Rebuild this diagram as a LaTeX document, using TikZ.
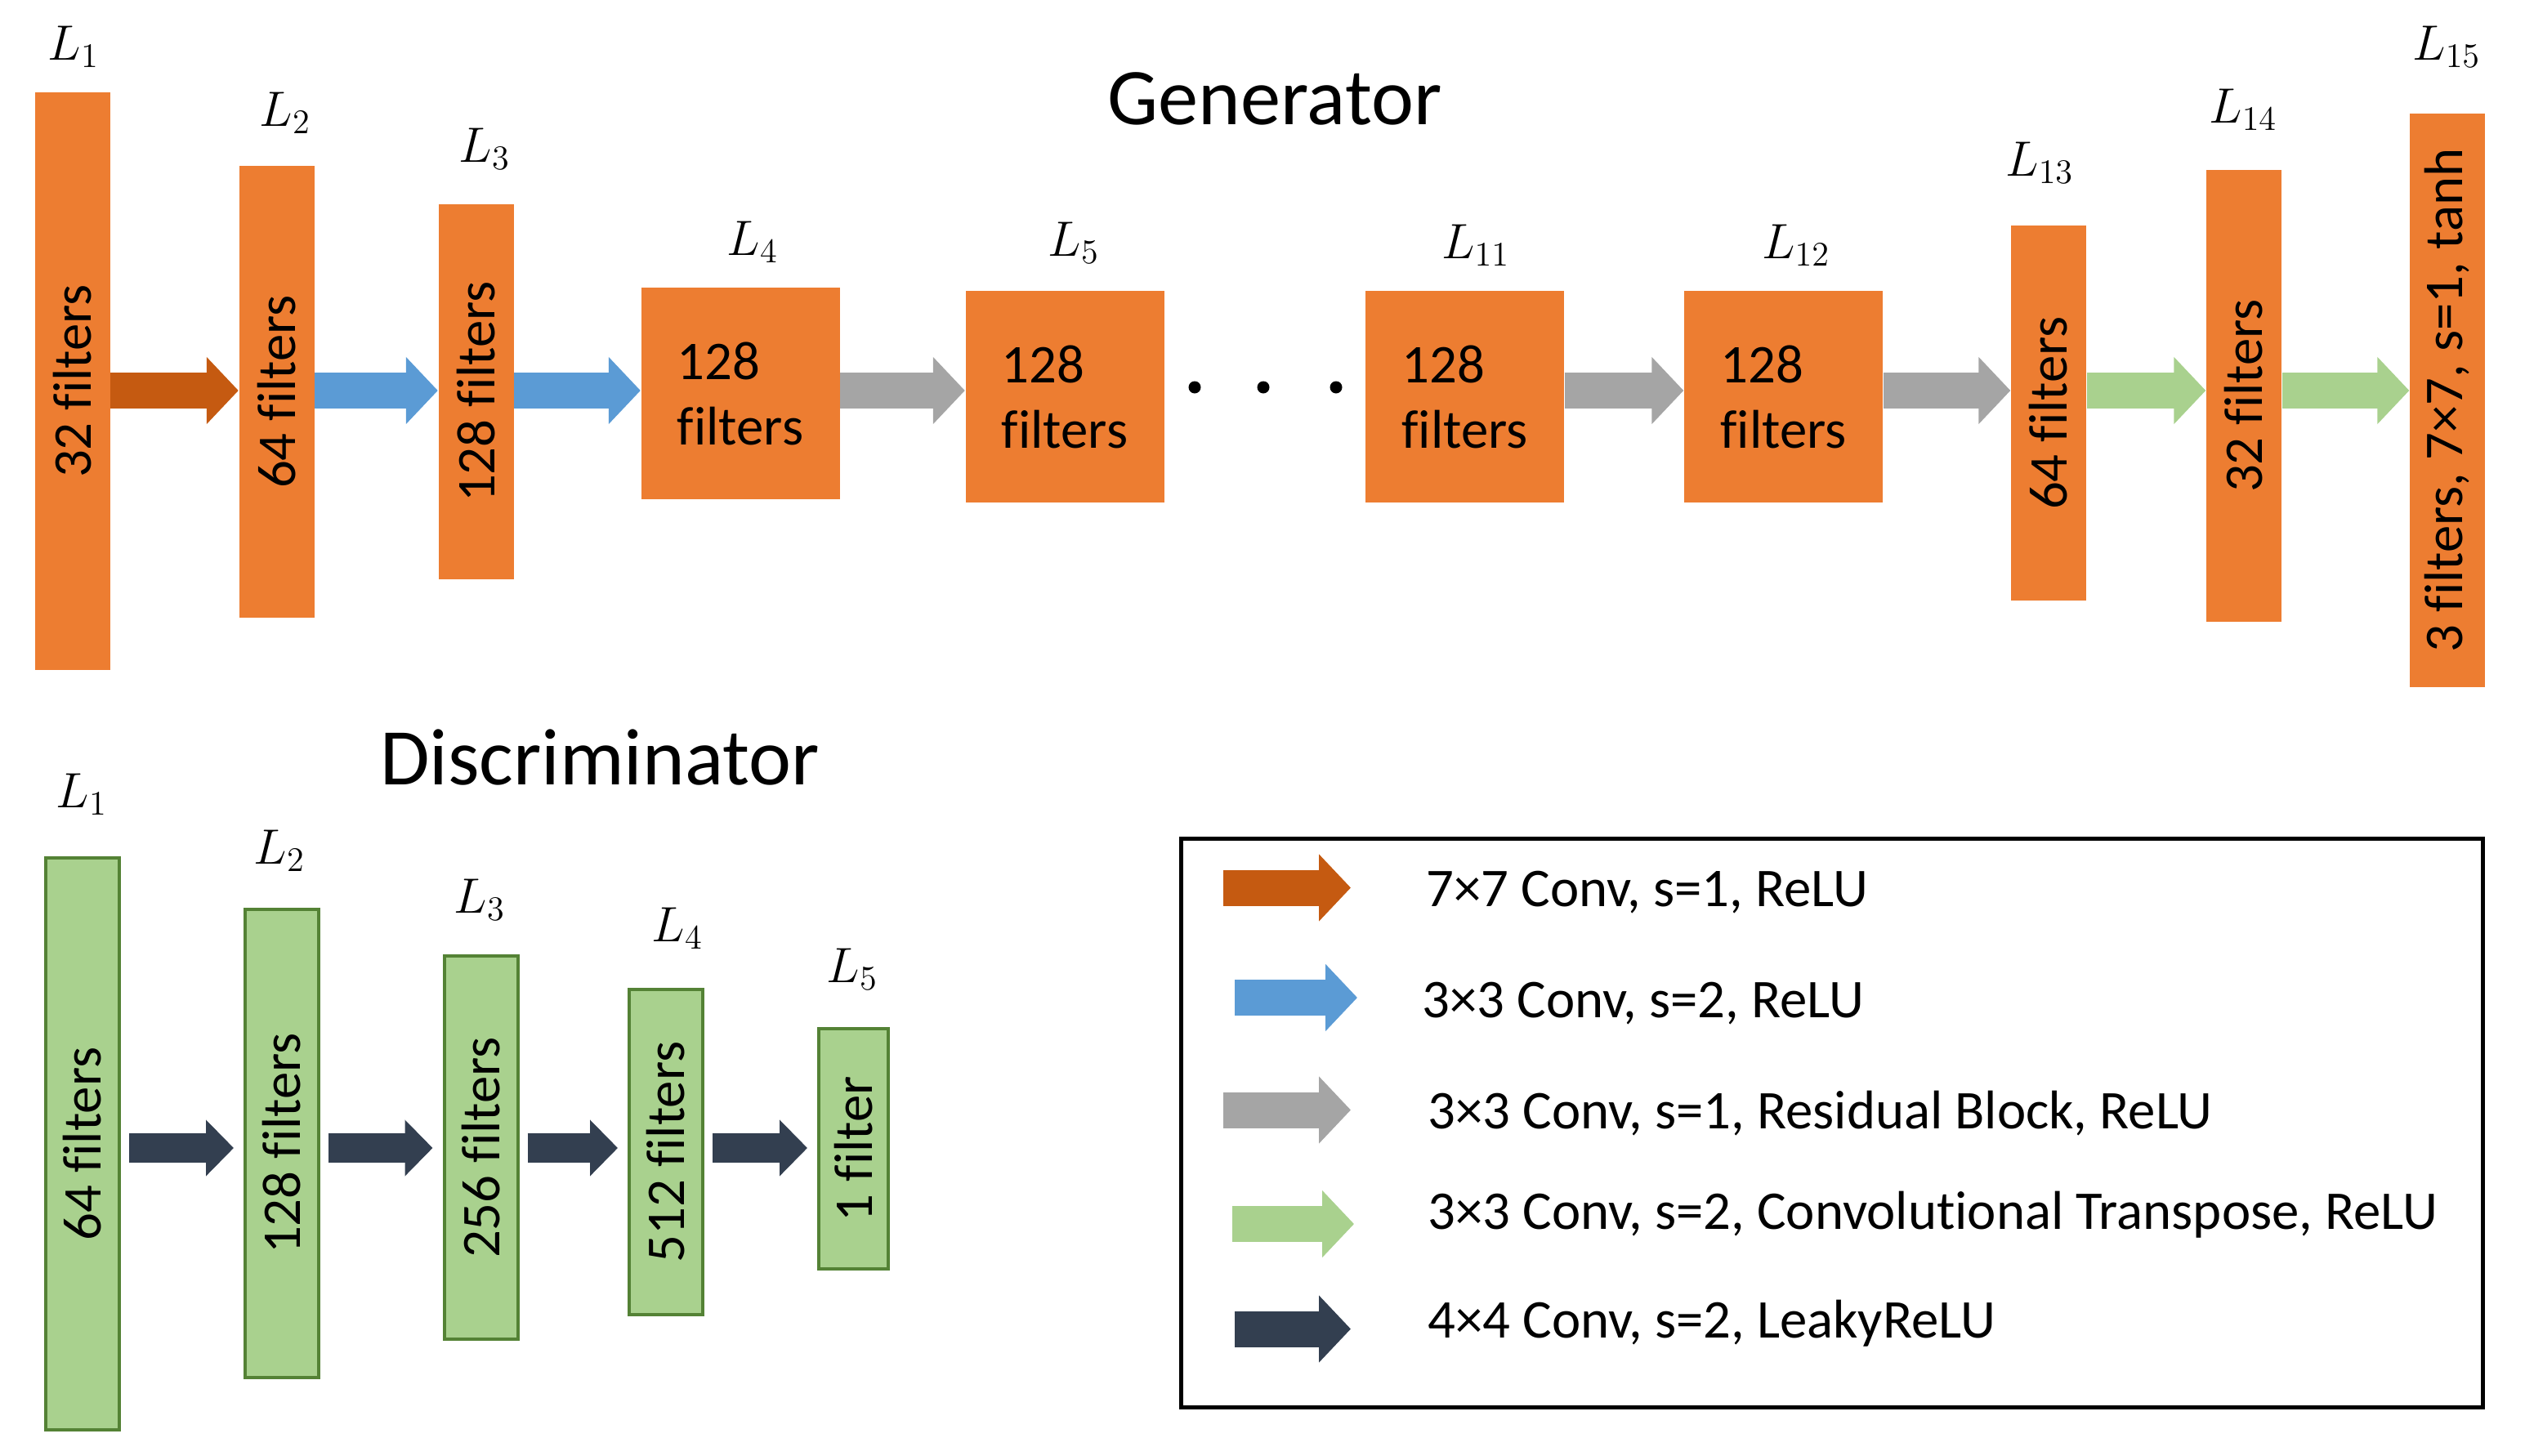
\documentclass[tikz,border=0pt]{standalone}
\usepackage{fontspec}
\setmainfont{Carlito}[Ligatures=CommonOff]
\usetikzlibrary{arrows.meta}
\definecolor{genorange}{HTML}{ED7D31}
\definecolor{convbrown}{HTML}{C55A11}
\definecolor{convblue}{HTML}{5B9BD5}
\definecolor{resgrey}{HTML}{A5A5A5}
\definecolor{upgreen}{HTML}{A9D18E}
\definecolor{boxgreen}{HTML}{548235}
\definecolor{leakydark}{HTML}{333F50}

\begin{document}
\begin{tikzpicture}
  [y=-1cm,every node/.style={font=\fontsize{19}{22.8}\selectfont,inner sep=0pt},
   gbox/.style={fill=genorange,minimum width=0.92cm},
   widebox/.style={minimum width=2.43cm,minimum height=2.59cm,align=left},
   dbox/.style={fill=upgreen,draw=boxgreen,line width=0.04cm,minimum width=0.90cm},
   lname/.style={anchor=base,font=\fontsize{17.28}{20}\selectfont},
   heading/.style={anchor=base,font=\fontsize{28}{34}\selectfont},
   blockarrow/.style={line width=0.44cm,-{Triangle[length=0.39cm,width=0.80cm]}},
   smallarrow/.style={line width=0.36cm,-{Triangle[length=0.34cm,width=0.67cm]}},
   brownarrow/.style={blockarrow,draw=convbrown},
   bluearrow/.style={blockarrow,draw=convblue},
   greyarrow/.style={blockarrow,draw=resgrey},
   greenarrow/.style={blockarrow,draw=upgreen},
   darkarrow/.style={blockarrow,draw=leakydark}]
  \useasboundingbox (0,0) rectangle (30.90,17.81);
  \node[heading] (gtitle) at (15.60,1.52) {Generator};
  \node[heading] (dtitle) at (7.34,9.60) {Discriminator};
  \node[gbox,minimum height=7.07cm] (g1) at (0.885,4.665) {\rotatebox{90}{32 filters}};
  \node[gbox,minimum height=5.53cm] (g2) at (3.385,4.795) {\rotatebox{90}{64 filters}};
  \node[gbox,minimum height=4.59cm] (g3) at (5.825,4.795) {\rotatebox{90}{128 filters}};
  \node[gbox,widebox] (g4) at (9.06,4.815) {128\\filters};
  \node[gbox,widebox] (g5) at (13.03,4.855) {128\\filters};
  \node[gbox,widebox] (g11) at (17.925,4.855) {128\\filters};
  \node[gbox,widebox] (g12) at (21.825,4.855) {128\\filters};
  \node[gbox,minimum height=4.59cm] (g13) at (25.07,5.055) {\rotatebox{90}{64 filters}};
  \node[gbox,minimum height=5.53cm] (g14) at (27.46,4.845) {\rotatebox{90}{32 filters}};
  \node[gbox,minimum height=7.02cm] (g15) at (29.95,4.90) {\rotatebox{90}{3 filters, 7×7, s=1, tanh}};
  \node[lname] (n1) at (0.90,0.73) {$L_{1}$};
  \node[lname] (n2) at (3.49,1.54) {$L_{2}$};
  \node[lname] (n3) at (5.93,1.98) {$L_{3}$};
  \node[lname] (n4) at (9.21,3.12) {$L_{4}$};
  \node[lname] (n5) at (13.14,3.13) {$L_{5}$};
  \node[lname] (n11) at (18.06,3.16) {$L_{11}$};
  \node[lname] (n12) at (21.98,3.16) {$L_{12}$};
  \node[lname] (n13) at (24.96,2.15) {$L_{13}$};
  \node[lname] (n14) at (27.45,1.50) {$L_{14}$};
  \node[lname] (n15) at (29.94,0.73) {$L_{15}$};
  \foreach \x in {14.62,15.46,16.35}
    \fill (\x,4.74) circle (0.075);
  \coordinate (grow) at (0,4.78);
  \foreach \from/\to/\kind in {g1/g2/brownarrow,g2/g3/bluearrow,g3/g4/bluearrow,g4/g5/greyarrow,g11/g12/greyarrow,g12/g13/greyarrow,g13/g14/greenarrow,g14/g15/greenarrow}
    \draw[\kind] (\from.east |- grow) -- (\to.west |- grow);
  \node[dbox,minimum height=7.00cm] (d1) at (1.01,14.00) {\rotatebox{90}{64 filters}};
  \node[dbox,minimum height=5.73cm] (d2) at (3.45,13.995) {\rotatebox{90}{128 filters}};
  \node[dbox,minimum height=4.69cm] (d3) at (5.885,14.045) {\rotatebox{90}{256 filters}};
  \node[dbox,minimum height=3.98cm] (d4) at (8.15,14.10) {\rotatebox{90}{512 filters}};
  \node[dbox,minimum height=2.94cm,minimum width=0.85cm] (d5) at (10.445,14.06) {\rotatebox{90}{1 filter}};
  \node[lname] (m1) at (1.00,9.88) {$L_{1}$};
  \node[lname] (m2) at (3.42,10.57) {$L_{2}$};
  \node[lname] (m3) at (5.87,11.17) {$L_{3}$};
  \node[lname] (m4) at (8.29,11.52) {$L_{4}$};
  \node[lname] (m5) at (10.43,12.02) {$L_{5}$};
  \coordinate (drow) at (0,14.05);
  \foreach \from/\to in {d1/d2,d2/d3,d3/d4,d4/d5}
    \draw[darkarrow,smallarrow,shorten <=0.1cm,shorten >=0.12cm] (\from.east |- drow) -- (\to.west |- drow);
  \draw[line width=0.05cm] (14.45,10.26) rectangle (30.38,17.22);
  \node[anchor=base west] (t1) at (17.45,11.09) {7×7 Conv, s=1, ReLU};
  \node[anchor=base west] (t2) at (17.40,12.45) {3×3 Conv, s=2, ReLU};
  \node[anchor=base west] (t3) at (17.47,13.81) {3×3 Conv, s=1, Residual Block, ReLU};
  \node[anchor=base west] (t4) at (17.47,15.04) {3×3 Conv, s=2, Convolutional Transpose, ReLU};
  \node[anchor=base west] (t5) at (17.47,16.37) {4×4 Conv, s=2, LeakyReLU};
  \foreach \kind/\xa/\xb/\y [count=\i] in {brownarrow/14.97/16.53/10.865,bluearrow/15.11/16.61/12.21,greyarrow/14.97/16.53/13.585,greenarrow/15.08/16.57/14.98,darkarrow/15.11/16.53/16.265}{
    \coordinate (ks\i) at (\xa,\y);
    \coordinate (ke\i) at (\xb,\y);
    \draw[\kind] (ks\i) -- (ke\i);
  }
\end{tikzpicture}
\end{document}
